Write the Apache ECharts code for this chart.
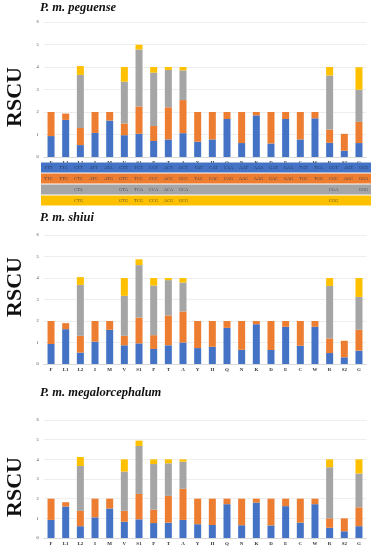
<!DOCTYPE html>
<html><head><meta charset="utf-8">
<script src="https://cdn.jsdelivr.net/npm/echarts@6/dist/echarts.min.js"></script>
<style>html,body{margin:0;padding:0;background:#fff}#c{width:379px;height:550px}</style>
</head><body><div id="c"></div>
<script>
const categories = ['F','L1','L2','I','M','V','S1','P','T','A','Y','H','Q','N','K','D','E','C','W','R','S2','G'];
const yTicks = [0,1,2,3,4,5,6];
const panelTitles = ['P. m. peguense','P. m. shiui','P. m. megalorcephalum'];

// P. m. peguense
const peg1 = [0.93,1.65,0.53,1.07,1.62,0.97,1.03,0.71,0.78,1.06,0.68,0.78,1.69,0.62,1.85,0.60,1.69,0.78,1.72,0.63,0.28,0.62];
const peg2 = [1.07,0.28,0.76,0.93,0.38,0.52,1.22,0.67,1.43,1.47,1.32,1.22,0.31,1.38,0.15,1.40,0.31,1.22,0.28,0.59,0.75,0.94];
const peg3 = [0,0,2.36,0,0,1.86,2.53,2.37,1.66,1.32,0,0,0,0,0,0,0,0,0,2.40,0,1.43];
const peg4 = [0,0,0.39,0,0,0.65,0.21,0.25,0.13,0.15,0,0,0,0,0,0,0,0,0,0.38,0,1.00];

// P. m. shiui
const shi1 = [0.93,1.62,0.53,1.04,1.59,0.87,0.96,0.70,0.87,1.00,0.74,0.80,1.68,0.66,1.85,0.65,1.73,0.85,1.73,0.51,0.31,0.62];
const shi2 = [1.07,0.28,0.78,0.96,0.41,0.44,1.20,0.64,1.39,1.44,1.26,1.20,0.32,1.34,0.15,1.35,0.27,1.15,0.27,0.68,0.77,0.97];
const shi3 = [0,0,2.37,0,0,1.86,2.44,2.31,1.64,1.35,0,0,0,0,0,0,0,0,0,2.44,0,1.53];
const shi4 = [0,0,0.36,0,0,0.83,0.27,0.35,0.10,0.21,0,0,0,0,0,0,0,0,0,0.37,0,0.88];

// P. m. megalorcephalum
const meg1 = [0.92,1.60,0.60,1.05,1.50,0.83,0.95,0.76,0.78,0.92,0.70,0.66,1.72,0.65,1.80,0.64,1.62,0.78,1.72,0.52,0.34,0.60];
const meg2 = [1.08,0.22,0.78,0.95,0.50,0.55,1.29,0.68,1.36,1.58,1.30,1.34,0.28,1.35,0.20,1.36,0.38,1.22,0.28,0.48,0.66,0.96];
const meg3 = [0,0,2.28,0,0,2.00,2.44,2.32,1.66,1.38,0,0,0,0,0,0,0,0,0,2.60,0,1.72];
const meg4 = [0,0,0.46,0,0,0.62,0.27,0.24,0.20,0.12,0,0,0,0,0,0,0,0,0,0.40,0,0.72];

// codon table rows
const codonRow1 = ['TTT','TTA','CTT','ATT','ATA','GTT','TCT','CCT','ACT','GCT','TAT','CAT','CAA','AAT','AAA','GAT','GAA','TGT','TGA','CGT','AGT','GGT'];
const codonRow2 = ['TTC','TTG','CTC','ATC','ATG','GTC','TCC','CCC','ACC','GCC','TAC','CAC','CAG','AAC','AAG','GAC','GAG','TGC','TGG','CGC','AGC','GGA'];
const codonRow3 = ['','','CTA','','','GTA','TCA','CCA','ACA','GCA','','','','','','','','','','CGA','','GGG'];
const codonRow4 = ['','','CTG','','','GTG','TCG','CCG','ACG','GCG','','','','','','','','','','CGG','',''];

const colors = ['#4472C4','#ED7D31','#A5A5A5','#FFC000'];
const panels = [[peg1,peg2,peg3,peg4],[shi1,shi2,shi3,shi4],[meg1,meg2,meg3,meg4]];
const serif = '"Liberation Serif","DejaVu Serif",serif';

const grids = [
  {left:43.7, right:12.7, top:22, height:135},
  {left:43.7, right:12.7, top:235, height:129},
  {left:43.7, right:12.7, top:420, height:118},
  {left:41, right:8, top:162, height:44}
];
const xAxes = [], yAxes = [], series = [];
for (let p = 0; p < 3; p++) {
  xAxes.push({type:'category', gridIndex:p, data:categories,
    axisLine:{lineStyle:{color:'#d9d9d9', width:1}}, axisTick:{show:false},
    axisLabel:{fontSize:5, fontWeight:'bold', fontFamily:serif, color:'#333', margin:3, interval:0}});
  yAxes.push({type:'value', gridIndex:p, min:yTicks[0], max:yTicks[yTicks.length-1], interval:1,
    axisLine:{show:false}, axisTick:{show:false},
    axisLabel:{fontSize:4.5, fontFamily:serif, color:'#444', margin:5},
    splitLine:{lineStyle:{color:'#eeeeee', width:1}}});
  panels[p].forEach((arr, k) => {
    series.push({type:'bar', xAxisIndex:p, yAxisIndex:p, stack:'s'+p, barWidth:7,
      data:arr.map(v => v === 0 ? '-' : v), itemStyle:{color:colors[k]}, silent:true});
  });
}
// codon table
const rows = [codonRow1, codonRow2, codonRow3, codonRow4];
xAxes.push({type:'category', gridIndex:3, data:categories, show:false});
yAxes.push({type:'value', gridIndex:3, min:0, max:rows.length, inverse:true, show:false});
const tableData = [];
rows.forEach((r, ri) => r.forEach((t, ci) => { if (t) tableData.push([ci, ri + 0.5, t]); }));
series.push({type:'scatter', xAxisIndex:3, yAxisIndex:3, symbolSize:0, data:tableData, silent:true,
  label:{show:true, position:'inside', formatter:p => p.data[2], fontSize:4.5, fontFamily:serif, color:'#1f2a44'},
  markArea:{silent:true, data: rows.map((r, ri) => [
    {yAxis: ri + 0.04, itemStyle:{color:colors[ri], opacity:1}},
    {yAxis: ri + 0.96}])}
});

const titleTop = [8, 218, 393];
const rscuY = [97, 287, 487];
const chart = echarts.init(document.getElementById('c'), null, {renderer:'canvas'});
chart.setOption({
  animation:false,
  backgroundColor:'#ffffff',
  grid:grids, xAxis:xAxes, yAxis:yAxes, series:series,
  graphic: panelTitles.map((t, i) => ({type:'text', left:40, top:titleTop[i]-7,
      style:{text:t, font:'italic bold 12.5px '+serif, fill:'#111'}}))
    .concat(rscuY.map(y => ({type:'text', x:15, y:y, rotation:Math.PI/2,
      style:{text:'RSCU', font:'bold 22px '+serif, fill:'#111', textAlign:'center', textVerticalAlign:'middle'}})))
});
</script></body></html>
